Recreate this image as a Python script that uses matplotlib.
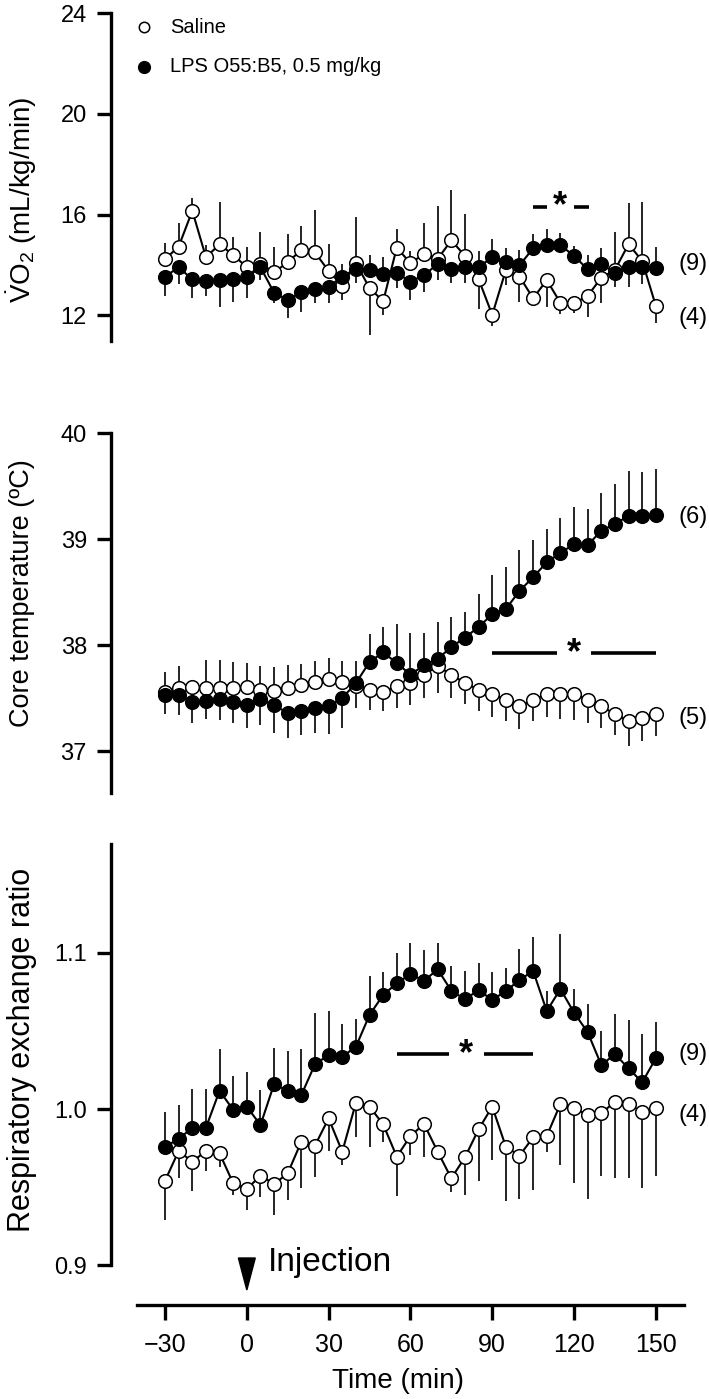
import numpy as np
import matplotlib
matplotlib.use("Agg")
import matplotlib.pyplot as plt

plt.rcParams['font.family'] = ['Liberation Sans', 'DejaVu Sans']
plt.rcParams['mathtext.fontset'] = 'custom'
plt.rcParams['mathtext.rm'] = 'Liberation Sans'
plt.rcParams['mathtext.it'] = 'Liberation Sans:italic'

# time points (min), every 5 min
time = np.arange(-30, 155, 5)

# VO2 (mL/kg/min)
vo2_saline = [14.23, 14.73, 16.15, 14.31, 14.82, 14.40, 13.91, 14.04, 13.71, 14.11,
              14.60, 14.50, 13.76, 13.18, 14.07, 13.09, 12.56, 14.69, 14.07, 14.44,
              14.24, 14.98, 14.36, 13.44, 12.02, 13.80, 13.54, 12.68, 13.40, 12.50,
              12.48, 12.77, 13.50, 13.80, 14.83, 14.16, 12.38]
vo2_saline_err = [0.63, 0.95, 0.52, 0.49, 1.67, 0.73, 0.82, 1.28, 1.00, 1.12,
                  0.93, 1.68, 1.06, 0.57, 1.83, 1.87, 0.54, 0.73, 0.50, 1.24,
                  2.10, 2.00, 1.67, 1.19, 0.46, 0.60, 1.00, 0.30, 1.06, 0.45,
                  0.40, 0.82, 1.02, 1.52, 1.65, 2.33, 0.70]
vo2_lps = [13.54, 13.91, 13.43, 13.38, 13.40, 13.44, 13.51, 13.91, 12.90, 12.61,
           12.93, 13.04, 13.14, 13.54, 13.85, 13.80, 13.63, 13.69, 13.34, 13.60,
           14.04, 13.84, 13.91, 13.91, 14.31, 14.13, 13.99, 14.66, 14.79, 14.79,
           14.36, 13.83, 14.04, 13.69, 13.91, 13.91, 13.87]
vo2_lps_err = [0.77, 0.66, 0.75, 0.63, 1.08, 0.90, 0.83, 0.50, 0.40, 0.73,
               0.78, 0.56, 0.66, 0.50, 0.58, 0.60, 0.70, 0.62, 0.73, 0.66,
               0.63, 0.57, 0.63, 0.66, 0.71, 0.53, 0.60, 0.57, 0.62, 0.49,
               0.40, 0.57, 0.62, 0.56, 0.77, 0.66, 0.83]

# core temperature (C)
tc_saline = [37.56, 37.59, 37.60, 37.59, 37.59, 37.59, 37.60, 37.58, 37.57, 37.59,
             37.62, 37.65, 37.68, 37.65, 37.61, 37.58, 37.56, 37.61, 37.64, 37.72,
             37.80, 37.72, 37.64, 37.58, 37.54, 37.48, 37.42, 37.48, 37.54, 37.54,
             37.54, 37.48, 37.42, 37.35, 37.28, 37.31, 37.35]
tc_saline_err = [0.19, 0.21, 0.05, 0.27, 0.27, 0.25, 0.23, 0.22, 0.22, 0.22,
                 0.20, 0.20, 0.20, 0.20, 0.20, 0.19, 0.18, 0.20, 0.21, 0.22,
                 0.25, 0.22, 0.20, 0.20, 0.22, 0.20, 0.21, 0.20, 0.22, 0.24,
                 0.25, 0.22, 0.20, 0.20, 0.23, 0.22, 0.21]
tc_lps = [37.53, 37.53, 37.46, 37.47, 37.49, 37.46, 37.43, 37.49, 37.43, 37.36,
          37.38, 37.41, 37.42, 37.50, 37.64, 37.84, 37.93, 37.83, 37.72, 37.81,
          37.87, 37.98, 38.07, 38.17, 38.29, 38.34, 38.51, 38.64, 38.78, 38.87,
          38.95, 38.94, 39.08, 39.14, 39.22, 39.22, 39.23]
tc_lps_err = [0.18, 0.19, 0.20, 0.17, 0.20, 0.20, 0.21, 0.24, 0.26, 0.24,
              0.23, 0.24, 0.26, 0.28, 0.21, 0.26, 0.24, 0.37, 0.39, 0.30,
              0.35, 0.28, 0.24, 0.31, 0.37, 0.40, 0.39, 0.35, 0.31, 0.33,
              0.35, 0.34, 0.35, 0.38, 0.42, 0.41, 0.43]

# respiratory exchange ratio
rer_saline = [0.9540, 0.9731, 0.9662, 0.9731, 0.9716, 0.9524, 0.9487, 0.9573, 0.9519, 0.9588,
              0.9791, 0.9766, 0.9940, 0.9726, 1.0040, 1.0015, 0.9902, 0.9694, 0.9827, 0.9904,
              0.9726, 0.9556, 0.9690, 0.9870, 1.0015, 0.9758, 0.9701, 0.9818, 0.9827, 1.0032,
              1.0004, 0.9962, 0.9972, 1.0047, 1.0030, 0.9983, 1.0008]
rer_saline_err = [0.025, 0.0175, 0.0186, 0.0126, 0.009, 0.0075, 0.0134, 0.014, 0.020, 0.017,
                  0.030, 0.020, 0.021, 0.0085, 0.022, 0.026, 0.0115, 0.025, 0.012, 0.021,
                  0.005, 0.0085, 0.024, 0.033, 0.034, 0.035, 0.028, 0.034, 0.010, 0.039,
                  0.048, 0.054, 0.040, 0.049, 0.047, 0.049, 0.044]
rer_lps = [0.9758, 0.9808, 0.9880, 0.9880, 1.0117, 0.9994, 1.0015, 0.9897, 1.0160, 1.0117,
           1.0090, 1.0287, 1.0346, 1.0335, 1.0399, 1.0603, 1.0731, 1.0806, 1.0865, 1.0822,
           1.0895, 1.0758, 1.0703, 1.0763, 1.0699, 1.0756, 1.0827, 1.0885, 1.0628, 1.0769,
           1.0618, 1.0492, 1.0282, 1.0351, 1.0261, 1.0171, 1.0325]
rer_lps_err = [0.0224, 0.0218, 0.0246, 0.0246, 0.0265, 0.022, 0.0224, 0.0224, 0.0233, 0.0255,
               0.0293, 0.0331, 0.0282, 0.0207, 0.0177, 0.0252, 0.0146, 0.0197, 0.020, 0.020,
               0.017, 0.016, 0.018, 0.017, 0.018, 0.015, 0.020, 0.022, 0.013, 0.035,
               0.015, 0.018, 0.022, 0.026, 0.031, 0.031, 0.023]

# significance bars: (start, end, star x, y)
vo2_sig = (105, 125.5, 115, 16.3)
tc_sig = (90, 150, 120, 37.92)
rer_sig = (55, 105, 80.5, 1.035)

# group sizes shown at the right
vo2_n = [("(9)", 14.05), ("(4)", 11.9)]
tc_n = [("(6)", 39.21), ("(5)", 37.31)]
rer_n = [("(9)", 1.035), ("(4)", 0.996)]

injection_time = 0

W, H = 709, 1399
fig = plt.figure(figsize=(W / 100, H / 100), dpi=100)

XMIN, XMAX = -50, 160.7
left = 110.5 / W
width = (685 - 110.5) / W
SPINE_LW = 2.4
LABEL_X = (22 - 110.5) / (685 - 110.5)


def axes_px(top_px, bottom_px):
    return fig.add_axes([left, 1 - bottom_px / H, width, (bottom_px - top_px) / H])


def style_panel(ax, ylim, yticks, ytick_labels, ylabel, label_size, label_y):
    ax.set_xlim(XMIN, XMAX)
    ax.set_ylim(*ylim)
    for s in ['top', 'right', 'bottom']:
        ax.spines[s].set_visible(False)
    ax.spines['left'].set_linewidth(SPINE_LW)
    ax.set_xticks([])
    ax.set_yticks(yticks)
    ax.set_yticklabels(ytick_labels)
    ax.tick_params(axis='y', length=10, width=SPINE_LW, pad=7, labelsize=17)
    ax.set_ylabel(ylabel, fontsize=label_size, va='center')
    ax.yaxis.set_label_coords(LABEL_X, label_y)
    ax.patch.set_alpha(0)


def draw_series(ax, y_sal, e_sal, y_lps, e_lps):
    y_sal = np.array(y_sal)
    y_lps = np.array(y_lps)
    e_sal = np.array(e_sal)
    e_lps = np.array(e_lps)
    sal_up = y_sal >= y_lps
    # bars point away from the other group
    sal_err = [np.where(sal_up, 0, e_sal), np.where(sal_up, e_sal, 0)]
    lps_err = [np.where(sal_up, e_lps, 0), np.where(sal_up, 0, e_lps)]
    kw = dict(ecolor='black', elinewidth=1.2, capsize=0, color='black',
              lw=1.5, marker='o', ms=9.8, mec='black', mew=1.1, clip_on=False)
    ax.errorbar(time, y_sal, yerr=sal_err, mfc='white', zorder=3, **kw)
    ax.errorbar(time, y_lps, yerr=lps_err, mfc='black', zorder=4, **kw)


def draw_sig(ax, sig, gap):
    x0, x1, xs, y = sig
    ax.plot([x0, xs - gap], [y, y], color='black', lw=2.6, solid_capstyle='butt')
    ax.plot([xs + gap, x1], [y, y], color='black', lw=2.6, solid_capstyle='butt')
    ax.text(xs, y, '*', ha='center', va='center', fontsize=26, fontweight='bold')


def draw_n(ax, labels):
    for txt, y in labels:
        ax.text(158.2, y, txt, ha='left', va='center', fontsize=17, clip_on=False)


# top panel: VO2
ax1 = axes_px(13, 340.6)
style_panel(ax1, (11, 24), [12, 16, 20, 24], ['12', '16', '20', '24'],
            r'$\mathregular{\dot{V}O_2}$ (mL/kg/min)', 20, 0.43)
draw_series(ax1, vo2_saline, vo2_saline_err, vo2_lps, vo2_lps_err)
draw_sig(ax1, vo2_sig, 5)
draw_n(ax1, vo2_n)
ax1.plot([-37.7], [23.44], 'o', mfc='white', mec='black', mew=1.1, ms=7.5, clip_on=False)
ax1.plot([-37.7], [21.86], 'o', mfc='black', mec='black', ms=8.5, clip_on=False)
ax1.text(-28.2, 23.44, 'Saline', va='center', ha='left', fontsize=14.5)
ax1.text(-28.2, 21.86, 'LPS O55:B5, 0.5 mg/kg', va='center', ha='left', fontsize=14.5)

# middle panel: core temperature
ax2 = axes_px(433, 793.4)
style_panel(ax2, (36.6, 40), [37, 38, 39, 40], ['37', '38', '39', '40'],
            'Core temperature (ºC)', 19.5, 0.555)
draw_series(ax2, tc_saline, tc_saline_err, tc_lps, tc_lps_err)
draw_sig(ax2, tc_sig, 6.2)
draw_n(ax2, tc_n)

# bottom panel: RER
ax3 = axes_px(843.8, 1265)
style_panel(ax3, (0.9, 1.17), [0.9, 1.0, 1.1], ['0.9', '1.0', '1.1'],
            'Respiratory exchange ratio', 22, 0.51)
draw_series(ax3, rer_saline, rer_saline_err, rer_lps, rer_lps_err)
draw_sig(ax3, rer_sig, 6.5)
draw_n(ax3, rer_n)

# shared time axis
axx = axes_px(1250, 1305)
axx.set_xlim(XMIN, XMAX)
axx.set_ylim(0, 55)
for s in ['top', 'right', 'left']:
    axx.spines[s].set_visible(False)
axx.spines['bottom'].set_linewidth(SPINE_LW)
axx.spines['bottom'].set_bounds(-40.3, 160.5)
axx.set_yticks([])
axx.set_xticks(np.arange(-30, 151, 30))
axx.set_xticklabels(['\u221230', '0', '30', '60', '90', '120', '150'])
axx.tick_params(axis='x', length=11, width=SPINE_LW, pad=9, labelsize=18)
axx.set_xlabel('Time (min)', fontsize=20, labelpad=8)
axx.patch.set_alpha(0)
axx.fill([injection_time - 3.1, injection_time + 3.1, injection_time],
         [47, 47, 15], color='black', clip_on=False)
axx.text(injection_time + 7.8, 43, 'Injection', ha='left', va='center', fontsize=24)

fig.savefig('out.png', dpi=100)
